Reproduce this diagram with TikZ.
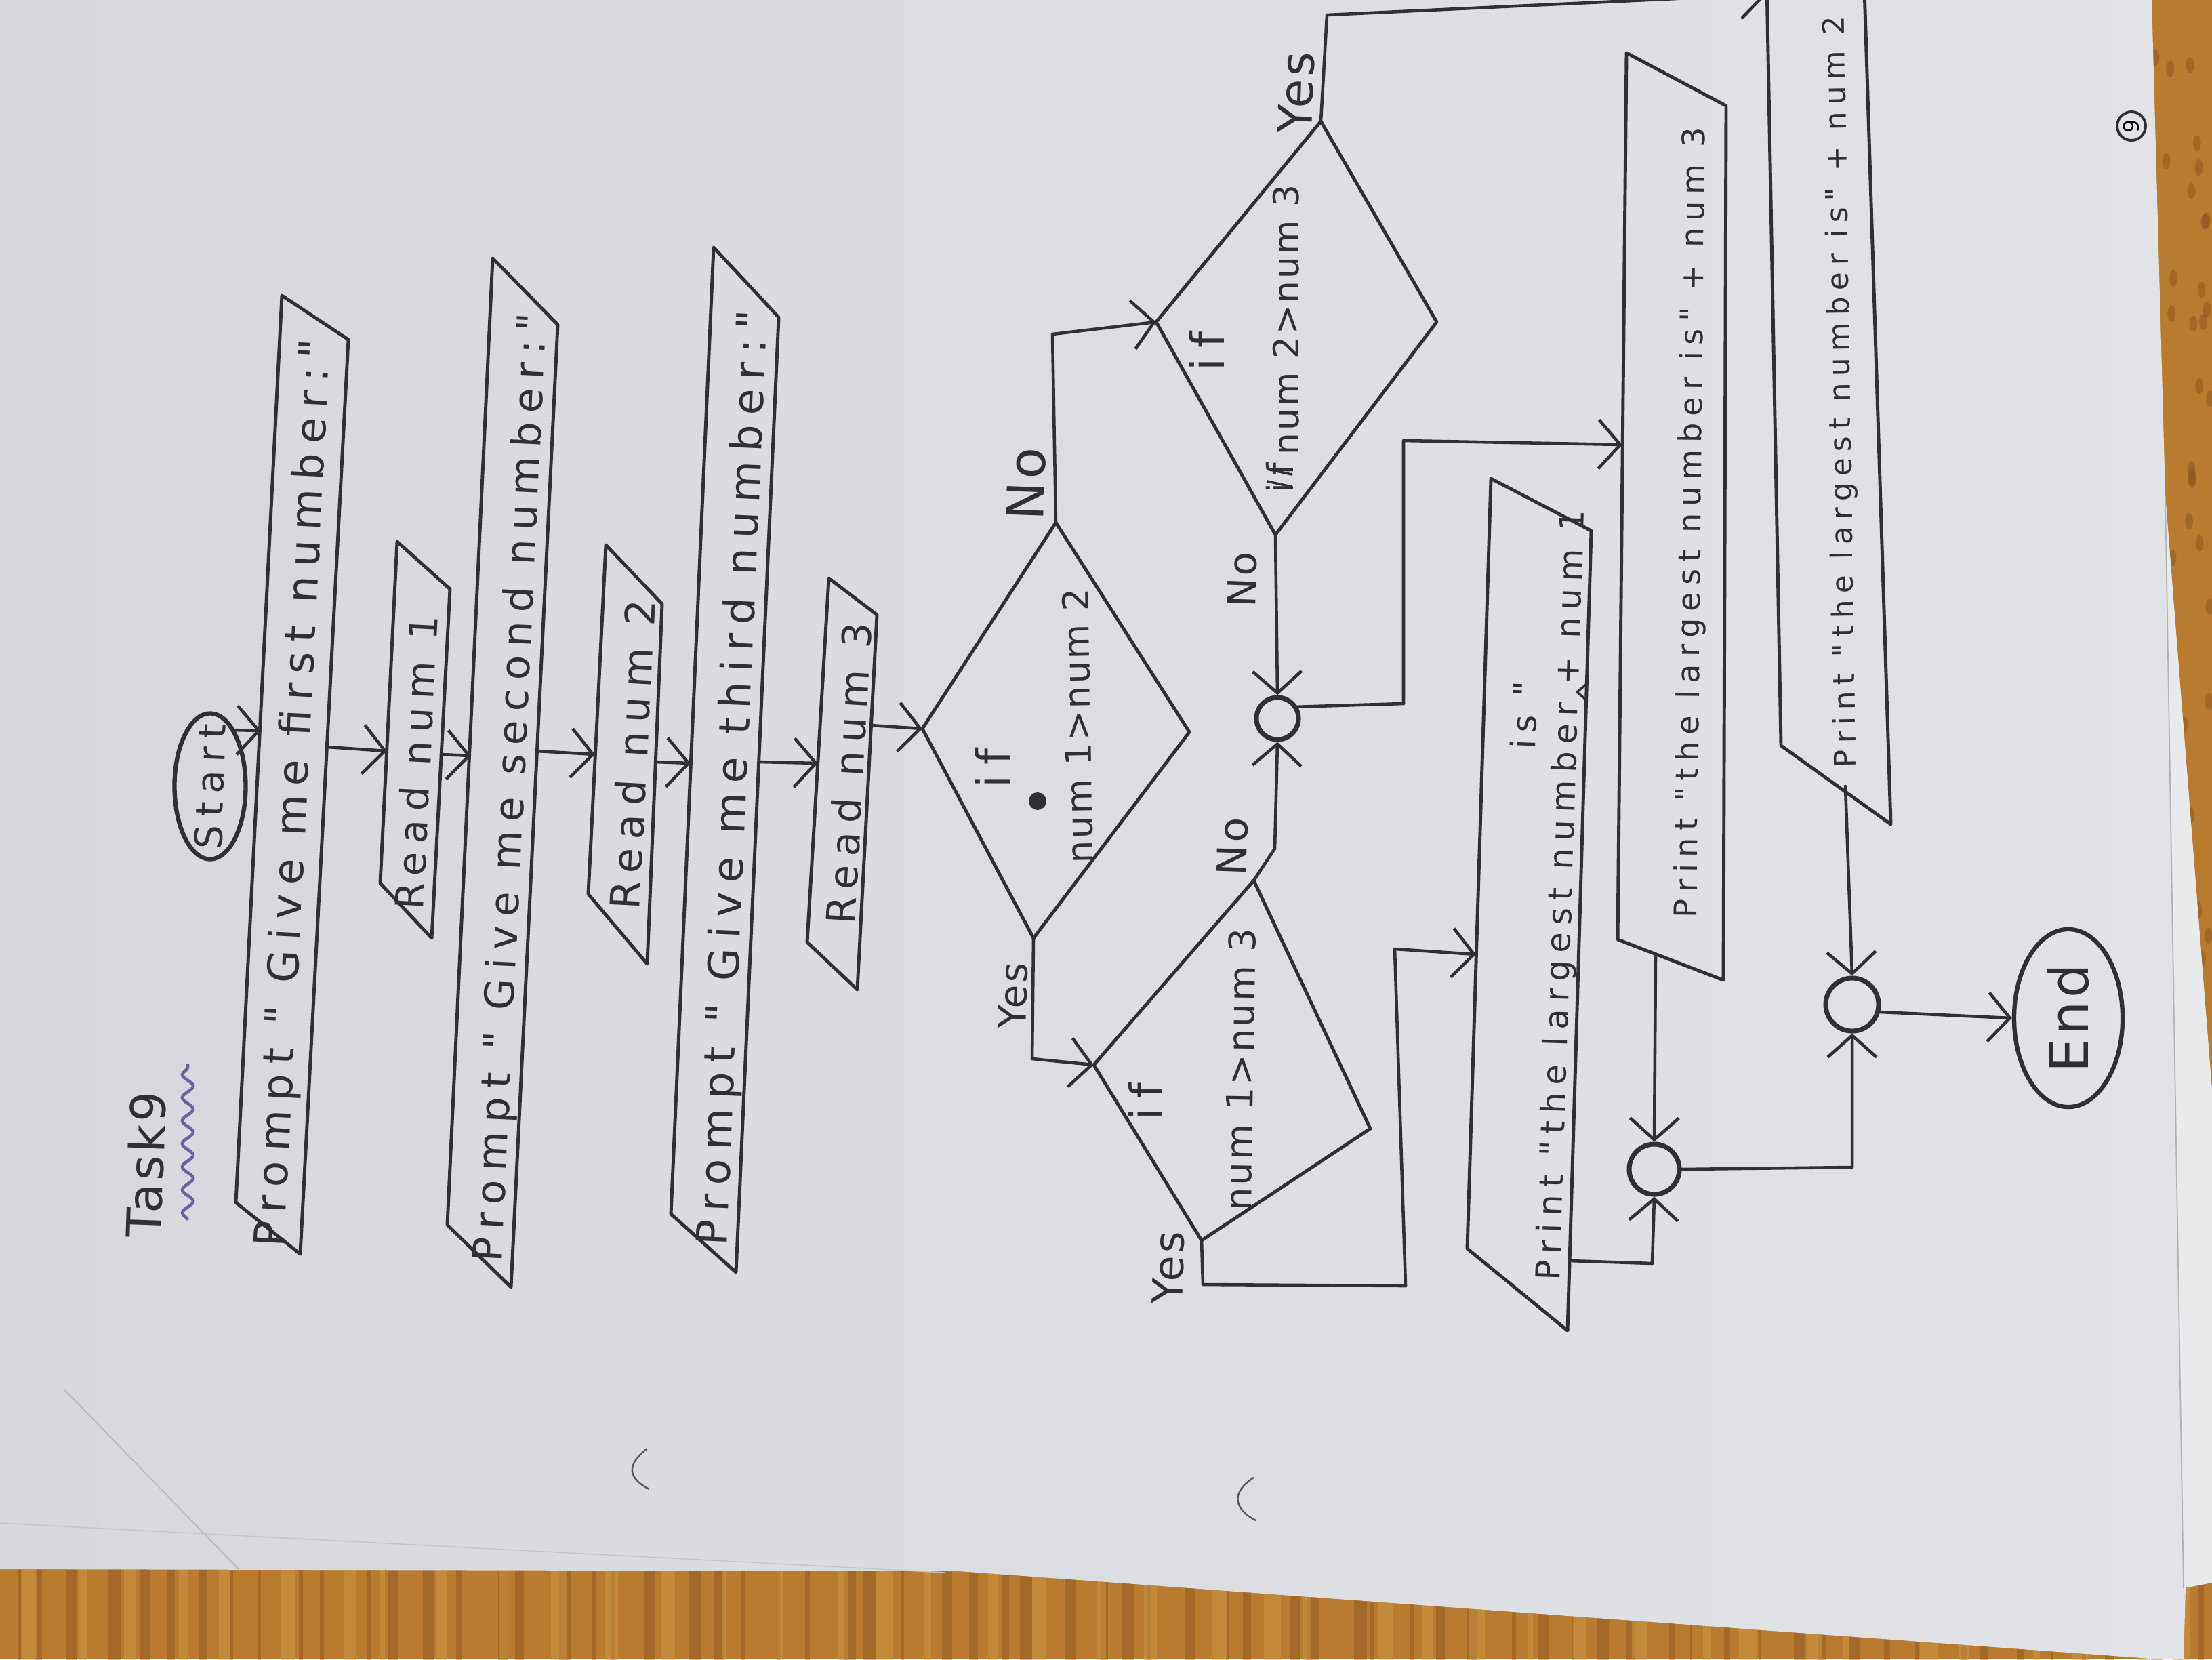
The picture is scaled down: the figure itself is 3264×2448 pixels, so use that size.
\documentclass[tikz,border=0pt]{standalone}
\usepackage{fontspec}
\newfontfamily\handw[LetterSpace=22]{DejaVu Sans}
\newfontfamily\handv[LetterSpace=6]{DejaVu Sans}
\usetikzlibrary{arrows.meta,shapes.geometric,decorations.pathmorphing}
\definecolor{ink}{HTML}{2F2F34}
\definecolor{paperA}{HTML}{D7D8DD}
\definecolor{paperB}{HTML}{E2E3E7}
\definecolor{paperL}{HTML}{E9EAEC}
\definecolor{wood}{HTML}{B87B2F}
\definecolor{woodD}{HTML}{8A5421}
\definecolor{woodL}{HTML}{CF9A48}
\definecolor{pen}{HTML}{6E5FA6}
\newcommand\hw[2]{\resizebox{#1}{!}{\handw #2}}
\newcommand\hv[2]{\resizebox{#1}{!}{\handv #2}}
\tikzset{
  ln/.style={draw=ink,line width=1.3pt,line cap=round,line join=round},
  ar/.style={ln,-{Straight Barb[length=0.32cm,width=0.72cm]}},
  box/.style={draw=ink,line width=1.4pt,line join=round},
  txt/.style={text=ink,inner sep=0pt,outer sep=0pt},
  ring/.style={circle,draw=ink,line width=2pt,inner sep=0pt},
  oval/.style={ellipse,draw=ink,line width=1.8pt,inner sep=0pt},
}
\begin{document}
\begin{tikzpicture}[x=0.01cm,y=-0.01cm]
\useasboundingbox (0,0) rectangle (3264,2448);
\clip (0,0) rectangle (3264,2448);
% table
\fill[wood] (0,0) rectangle (3264,2448);
\pgfmathsetseed{7}
\foreach \i in {0,...,70}{
  \pgfmathsetmacro\xx{\i*47+rnd*30}
  \pgfmathsetmacro\ww{3+rnd*16}
  \fill[woodD,opacity=0.45] (\xx,2280) rectangle ++(\ww,200);
}
\foreach \i in {0,...,40}{
  \pgfmathsetmacro\xx{\i*80+rnd*40}
  \pgfmathsetmacro\ww{6+rnd*20}
  \fill[woodL,opacity=0.5] (\xx,2280) rectangle ++(\ww,200);
}
\foreach \i in {0,...,60}{
  \pgfmathsetmacro\yy{rnd*1700}
  \pgfmathsetmacro\xx{3170+rnd*94}
  \fill[woodD,opacity=0.5] (\xx,\yy) ellipse [x radius=0.06cm,y radius=0.12cm];
}
% paper
\shade[left color=paperA,right color=paperB] (0,0) -- (3175,0) -- (3195,730) -- (3264,1610) -- (3264,2335) -- (3225,2340) -- (3222,2448) -- (3188,2448) -- (1415,2318) -- (0,2315) -- cycle;
\fill[paperL] (3195,732) -- (3264,1610) -- (3264,2335) -- (3222,2343) -- cycle;
\draw[gray!60,line width=0.5pt] (3195,732) -- (3222,2343);
\draw[gray!55,line width=0.5pt] (95,2050) -- (354,2317);
\draw[gray!45,line width=0.4pt] (0,2247) -- (1395,2320);
\draw[ink!80,line width=0.7pt] (955,2137) .. controls (925,2160) and (925,2180) .. (958,2197);
\draw[ink!80,line width=0.7pt] (1850,2180) .. controls (1818,2200) and (1818,2225) .. (1853,2243);

% title and page number
\node[txt,rotate=88] (task) at (215,1718) {\hv{2.15cm}{Task9}};
\draw[pen,line width=1.3pt,decorate,decoration={snake,segment length=0.34cm,amplitude=0.08cm}] (277,1800) -- (277,1570);
\node[circle,draw=ink,line width=1.1pt,minimum size=0.42cm,inner sep=0pt] (pg) at (3145,186) {\rotatebox{90}{\handv\small 9}};

% Start
\node[oval,minimum width=1.05cm,minimum height=2.15cm] (start) at (310,1160) {};
\node[txt,rotate=88] (startt) at (start) {\hw{1.85cm}{Start}};

% Prompt 1
\coordinate (p1a) at (416,436); \coordinate (p1b) at (514,501);
\coordinate (p1c) at (443,1850); \coordinate (p1d) at (348,1774);
\draw[box] (p1a) -- (p1b) -- (p1c) -- (p1d) -- cycle;
\node[txt,rotate=87.1] (p1t) at (436,1170) {\hw{13.4cm}{Prompt " Give me first number:"}};
\coordinate (p1in) at (385,1078); \coordinate (p1out) at (482,1102);

% Read num1
\coordinate (r1a) at (586,799); \coordinate (r1b) at (664,869);
\coordinate (r1c) at (637,1384); \coordinate (r1d) at (561,1303);
\draw[box] (r1a) -- (r1b) -- (r1c) -- (r1d) -- cycle;
\node[txt,rotate=87.2] (r1t) at (614,1125) {\hw{4.34cm}{Read num 1}};
\coordinate (r1in) at (571,1108); \coordinate (r1out) at (651,1113);

% Prompt 2
\coordinate (p2a) at (727,381); \coordinate (p2b) at (823,479);
\coordinate (p2c) at (754,1899); \coordinate (p2d) at (660,1807);
\draw[box] (p2a) -- (p2b) -- (p2c) -- (p2d) -- cycle;
\node[txt,rotate=87.3] (p2t) at (757,1162) {\hw{14.0cm}{Prompt " Give me second number:"}};
\coordinate (p2in) at (695,1115); \coordinate (p2out) at (792,1108);

% Read num2
\coordinate (r2a) at (894,804); \coordinate (r2b) at (977,891);
\coordinate (r2c) at (955,1422); \coordinate (r2d) at (868,1319);
\draw[box] (r2a) -- (r2b) -- (r2c) -- (r2d) -- cycle;
\node[txt,rotate=87.1] (r2t) at (933,1113) {\hw{4.56cm}{Read num 2}};
\coordinate (r2in) at (878,1113); \coordinate (r2out) at (967,1124);

% Prompt 3
\coordinate (p3a) at (1053,365); \coordinate (p3b) at (1149,468);
\coordinate (p3c) at (1086,1877); \coordinate (p3d) at (990,1791);
\draw[box] (p3a) -- (p3b) -- (p3c) -- (p3d) -- cycle;
\node[txt,rotate=87.5] (p3t) at (1085,1148) {\hw{13.8cm}{Prompt " Give me third number:"}};
\coordinate (p3in) at (1019,1126); \coordinate (p3out) at (1120,1124);

% Read num3
\coordinate (r3a) at (1223,853); \coordinate (r3b) at (1294,907);
\coordinate (r3c) at (1265,1460); \coordinate (r3d) at (1191,1390);
\draw[box] (r3a) -- (r3b) -- (r3c) -- (r3d) -- cycle;
\node[txt,rotate=86.8] (r3t) at (1252,1141) {\hw{4.44cm}{Read num 3}};
\coordinate (r3in) at (1207,1126); \coordinate (r3out) at (1285,1070);

% Decision 1
\coordinate (d1l) at (1361,1075); \coordinate (d1t) at (1558,771);
\coordinate (d1r) at (1755,1080); \coordinate (d1b) at (1525,1384);
\draw[box] (d1l) -- (d1t) -- (d1r) -- (d1b) -- cycle;
\node[txt,rotate=90] (d1if) at (1465,1133) {\hw{0.58cm}{if}};
\fill[ink] (1531,1182) circle [radius=0.13cm];
\node[txt,rotate=91] (d1c) at (1590,1071) {\hv{4.06cm}{num 1>num 2}};

% Decision 2
\coordinate (d2l) at (1614,1571); \coordinate (d2t) at (1850,1299);
\coordinate (d2r) at (2022,1665); \coordinate (d2b) at (1773,1830);
\draw[box] (d2l) -- (d2t) -- (d2r) -- (d2b) -- cycle;
\node[txt,rotate=90] (d2if) at (1690,1625) {\hw{0.55cm}{if}};
\node[txt,rotate=89] (d2c) at (1830,1578) {\hv{4.16cm}{num 1>num 3}};

% Decision 3
\coordinate (d3l) at (1706,475); \coordinate (d3t) at (1949,179);
\coordinate (d3r) at (2120,475); \coordinate (d3b) at (1882,789);
\draw[box] (d3l) -- (d3t) -- (d3r) -- (d3b) -- cycle;
\node[txt,rotate=90] (d3if) at (1781,518) {\hw{0.58cm}{if}};
\node[txt,rotate=90] (d3c) at (1898,472) {\hv{3.98cm}{num 2>num 3}};
\node[txt,rotate=90] (d3x) at (1888,705) {\hw{0.45cm}{if}};
\draw[ln,line width=1pt] (1870,692) -- (1906,700) (1870,710) -- (1906,718);

% Print num1
\coordinate (q1a) at (2200,706); \coordinate (q1b) at (2348,783);
\coordinate (q1c) at (2313,1963); \coordinate (q1d) at (2165,1842);
\draw[box] (q1a) -- (q1b) -- (q1c) -- (q1d) -- cycle;
\node[txt,rotate=88.2] (q1t) at (2306,1321) {\hw{11.37cm}{Print "the largest number + num 1}};
\node[txt,rotate=88] (q1is) at (2249,1055) {\hw{1.0cm}{is "}};
\draw[ln,line width=1pt] (2340,1010) -- (2327,1021) -- (2340,1032);
\coordinate (q1in) at (2178,1408); \coordinate (q1out) at (2316,1860);

% Print num3
\coordinate (q3a) at (2400,78); \coordinate (q3b) at (2547,156);
\coordinate (q3c) at (2543,1446); \coordinate (q3d) at (2387,1386);
\draw[box] (q3a) -- (q3b) -- (q3c) -- (q3d) -- cycle;
\node[txt,rotate=89.4] (q3t) at (2497,771) {\hw{11.65cm}{Print "the largest number is" + num 3}};
\coordinate (q3in) at (2394,656); \coordinate (q3out) at (2443,1408);

% Print num2
\coordinate (q2a) at (2606,-80); \coordinate (q2b) at (2749,-80);
\coordinate (q2c) at (2790,1216); \coordinate (q2d) at (2628,1100);
\draw[box] (q2a) -- (q2d) -- (q2c) -- (q2b);
\node[txt,rotate=90.9] (q2t) at (2718,578) {\hw{11.08cm}{Print "the largest number is" + num 2}};
\coordinate (q2out) at (2723,1160);
\coordinate (q2top) at (2598,-2);

% connectors circles and end
\node[ring,minimum size=0.62cm] (c1) at (1885,1060) {};
\node[ring,minimum size=0.74cm] (c2) at (2441,1725) {};
\node[ring,minimum size=0.78cm] (c3) at (2733,1482) {};
\node[oval,minimum width=1.6cm,minimum height=2.62cm] (end) at (3052,1502) {};
\node[txt,rotate=90] (endt) at (end) {\hv{1.6cm}{End}};

% labels
\node[txt,rotate=88] (n1) at (1514,714) {\hv{1.07cm}{No}};
\node[txt,rotate=88] (y1) at (1495,1469) {\hv{0.98cm}{Yes}};
\node[txt,rotate=88] (n2) at (1819,1249) {\hv{0.85cm}{No}};
\node[txt,rotate=88] (y2) at (1724,1870) {\hv{1.07cm}{Yes}};
\node[txt,rotate=88] (n3) at (1833,855) {\hv{0.82cm}{No}};
\node[txt,rotate=88] (y3) at (1913,137) {\hv{1.2cm}{Yes}};

% flow
\draw[ar] (start.66) -- (p1in);
\draw[ar] (p1out) -- (r1in);
\draw[ar] (r1out) -- (p2in);
\draw[ar] (p2out) -- (r2in);
\draw[ar] (r2out) -- (p3in);
\draw[ar] (p3out) -- (r3in);
\draw[ar] (r3out) -- (d1l);
\draw[ar] (d1t) -- (1553,493) -- (d3l);
\draw[ar] (d1b) -- (1523,1562) -- (d2l);
\draw[ar] (d3b) -- (c1.north);
\draw[ar] (d2t) -- (1881,1252) -- (c1.south);
\draw[ar] (c1.30) -- (2071,1038) -- (2071,650) -- (q3in);
\draw[ar] (d2b) -- (1775,1895) -- (2074,1897) -- (2058,1400) -- (q1in);
\draw[ar] (q1out) -- (2438,1864) -- (c2.south);
\draw[ar] (q3out) -- (c2.north);
\draw[ar] (c2.east) -- (2733,1722) -- (c3.south);
\draw[ar] (q2out) -- (c3.north);
\draw[ar] (c3.-15) -- (end.west);
\draw[ln] (d3t) -- (1958,22) -- (2560,-6);
\draw[ln] (q2top) -- (2571,26);
\end{tikzpicture}
\end{document}
